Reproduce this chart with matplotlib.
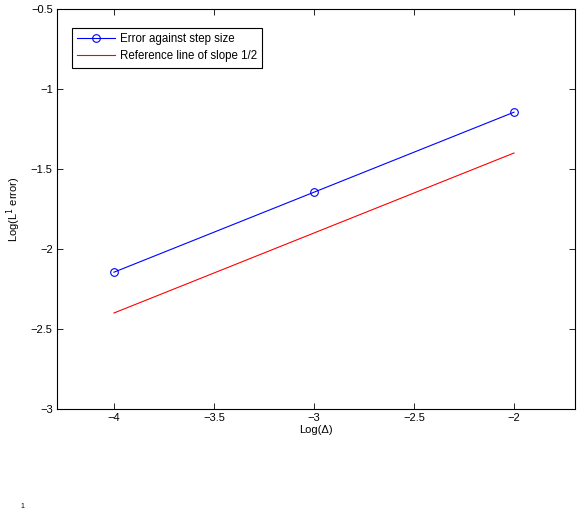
import matplotlib.pyplot as plt
import numpy as np

plt.rcParams['font.family'] = ['Liberation Sans', 'DejaVu Sans']
plt.rcParams['font.size'] = 8

# data
log_step = [-4, -3, -2]
log_err = [-2.145, -1.645, -1.145]
ref_x = [-4, -2]
ref_y = [-2.4, -1.4]

fig = plt.figure(figsize=(5.81, 5.11), dpi=100)
ax = fig.add_axes([0.098, 0.1996, 0.8917, 0.7828])

ax.plot(log_step, log_err, 'b-o', lw=0.8, markersize=5.5, markerfacecolor='none',
        markeredgewidth=0.8, label='Error against step size')
ax.plot(ref_x, ref_y, 'r-', lw=0.8, label='Reference line of slope 1/2')

ax.set_xlim(-4.285, -1.695)
ax.set_ylim(-3, -0.5)
ax.set_xticks([-4, -3.5, -3, -2.5, -2])
ax.set_xticklabels(['\u22124', '\u22123.5', '\u22123', '\u22122.5', '\u22122'])
ax.set_yticks([-3, -2.5, -2, -1.5, -1, -0.5])
ax.set_yticklabels(['\u22123', '\u22122.5', '\u22122', '\u22121.5', '\u22121', '\u22120.5'])
ax.tick_params(direction='in', top=True, right=True, length=4, width=0.6, pad=3)
for s in ax.spines.values():
    s.set_linewidth(0.8)

ax.set_xlabel('Log(\u0394)', labelpad=1)
ax.set_ylabel('Log(L$^1$ error)', labelpad=6)

leg = ax.legend(loc='upper left', bbox_to_anchor=(0.029, 0.9525), fancybox=False,
                edgecolor='black', framealpha=1, borderaxespad=0, handlelength=3.3,
                handletextpad=0.4, borderpad=0.45, labelspacing=0.45, fontsize=8.3)
leg.get_frame().set_linewidth(0.8)

# stray superscript left over at the bottom edge
fig.text(20 / 581, 0.001, '1', fontsize=5, va='bottom')

fig.savefig('out.png', dpi=100)
